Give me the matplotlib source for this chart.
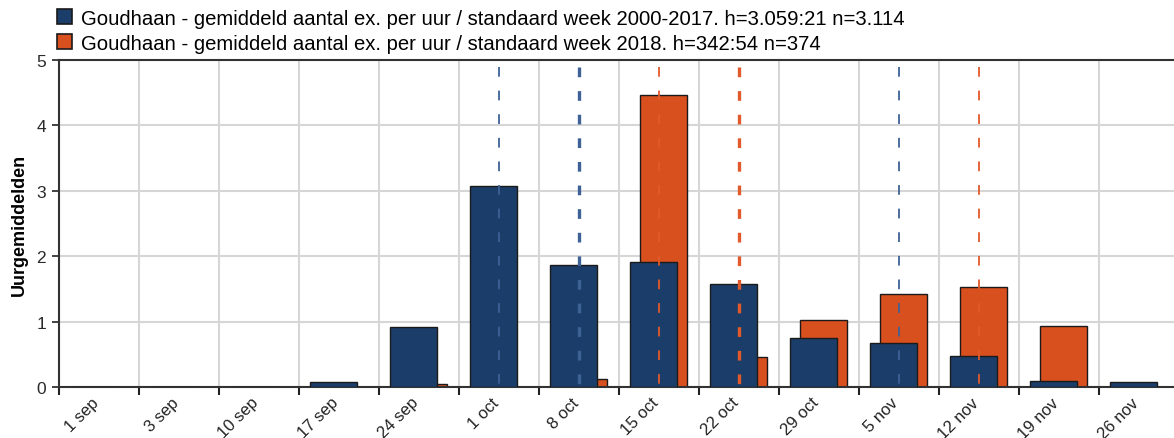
import matplotlib
matplotlib.use("Agg")
import matplotlib.pyplot as plt
from matplotlib.patches import Patch
import numpy as np

categories = ["1 sep", "3 sep", "10 sep", "17 sep", "24 sep", "1 oct", "8 oct",
              "15 oct", "22 oct", "29 oct", "5 nov", "12 nov", "19 nov", "26 nov"]
avg_2000_2017 = [0, 0, 0, 0.08, 0.92, 3.07, 1.87, 1.91, 1.58, 0.76, 0.68, 0.48, 0.10, 0.08]
avg_2018 = [0, 0, 0, 0, 0.05, 0, 0.12, 4.46, 0.47, 1.03, 1.43, 1.53, 0.94, 0]
label_2000_2017 = "Goudhaan - gemiddeld aantal ex. per uur / standaard week 2000-2017. h=3.059:21 n=3.114"
label_2018 = "Goudhaan - gemiddeld aantal ex. per uur / standaard week 2018. h=342:54 n=374"
# quartile markers (first, median, third) as category names
quartiles_2000_2017 = ["1 oct", "8 oct", "5 nov"]
quartiles_2018 = ["15 oct", "22 oct", "12 nov"]
y_label = "Uurgemiddelden"

BLUE = "#1b3d69"
ORANGE = "#d9501f"
BLUE_DASH = "#3e6196"
ORANGE_DASH = "#e2592b"

plt.rcParams['font.family'] = ['Liberation Sans', 'DejaVu Sans']

W, H = 1174, 439
fig = plt.figure(figsize=(W / 100, H / 100), dpi=100)
left_px, bottom_px, top_px = 58.6, 388.3, 61.0
band_px = 80.0
right_px = left_px + band_px * len(categories)
ax = fig.add_axes([left_px / W, 1 - bottom_px / H, (right_px - left_px) / W, (bottom_px - top_px) / H])

x = np.arange(len(categories))
width = 0.5875
off = 0.0625
ax.bar(x + off, avg_2018, width=width, color=ORANGE, edgecolor="#1a1a1a", linewidth=1.0, zorder=2)
ax.bar(x - off, avg_2000_2017, width=width, color=BLUE, edgecolor="#1a1a1a", linewidth=1.0, zorder=3)

ax.set_xlim(-0.5, len(categories) - 0.5)
ax.set_ylim(0, 5)

def draw_quartiles(names, color):
    for i, n in enumerate(names):
        xi = categories.index(n)
        lw = 2.4 if i == 1 else 1.3
        ax.plot([xi, xi], [4.9, -0.15], color=color, linewidth=lw,
                linestyle=(0, (7 / lw, 10 / lw)), zorder=4, clip_on=False)

draw_quartiles(quartiles_2000_2017, BLUE_DASH)
draw_quartiles(quartiles_2018, ORANGE_DASH)

# ticks
ax.set_xticks(x - 0.5)
ax.set_xticklabels([])
ax.set_xticks(x - 0.03, minor=True)
ax.set_xticklabels(categories, minor=True, rotation=45, ha="right", va="center",
                   rotation_mode="anchor", fontsize=12, color="#222222")
ax.tick_params(axis="x", which="major", length=6, width=1.5, color="#222222", direction="out")
ax.tick_params(axis="x", which="minor", length=0, pad=9)
ax.set_yticks(range(0, 6))
ax.tick_params(axis="y", length=5, width=1.2, color="#222222", labelsize=12.5, labelcolor="#2a2a2a", pad=4)

ax.grid(True, which="major", color="#d6d6d6", linewidth=1.5, zorder=0)
ax.set_axisbelow(True)

for s in ["left", "bottom", "top"]:
    ax.spines[s].set_color("#333333")
    ax.spines[s].set_linewidth(1.5)
ax.spines["right"].set_visible(False)

ax.set_ylabel(y_label, fontsize=13, fontweight="bold", labelpad=6)

handles = [Patch(facecolor=BLUE, edgecolor="#1a1a1a", linewidth=1.2),
           Patch(facecolor=ORANGE, edgecolor="#1a1a1a", linewidth=1.2)]
fig.legend(handles, [label_2000_2017, label_2018], loc="upper left",
           bbox_to_anchor=(43 / W, 1.01), frameon=False, fontsize=14.6,
           handlelength=0.75, handleheight=0.75, handletextpad=0.4, labelspacing=0.3,
           borderaxespad=0.3)

fig.savefig("out.png", dpi=100)
